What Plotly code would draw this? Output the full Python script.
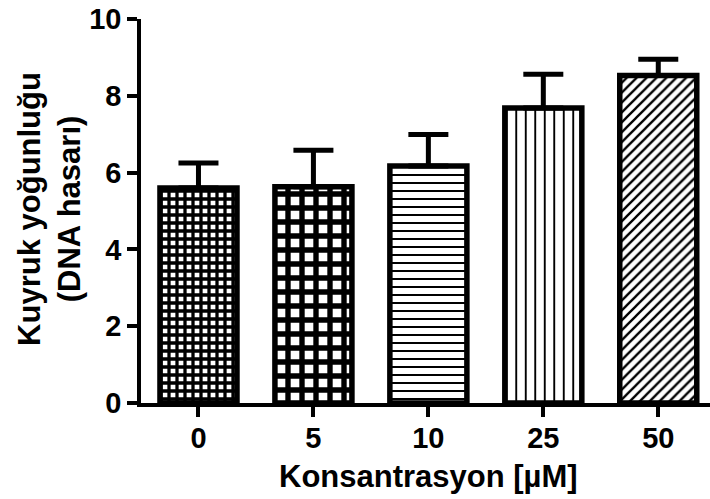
import plotly.graph_objects as go

categories = ["0", "5", "10", "25", "50"]
means = [5.60, 5.63, 6.17, 7.68, 8.53]
sem = [0.65, 0.95, 0.82, 0.88, 0.42]

patterns = ["+", "+", "-", "|", "/"]
pat_sizes = [8, 14, 8, 9.5, 7]
pat_solid = [0.65, 0.62, 0.25, 0.2, 0.33]

FONT = "Liberation Sans, Arial, sans-serif"
xpos = list(range(len(categories)))

fig = go.Figure()
fig.add_trace(go.Bar(
    x=xpos, y=means, width=0.67,
    marker=dict(
        color="white",
        line=dict(color="black", width=5.5),
        pattern=dict(shape=patterns, size=pat_sizes, solidity=pat_solid,
                     fgcolor="black", bgcolor="white", fgopacity=1,
                     fillmode="overlay"),
    ),
    error_y=dict(type="data", symmetric=False, array=sem,
                 arrayminus=[0] * len(sem), color="black",
                 thickness=5, width=20),
    showlegend=False,
))

fig.update_layout(
    width=710, height=499,
    margin=dict(l=141, r=0, t=19, b=96),
    paper_bgcolor="white", plot_bgcolor="rgba(0,0,0,0)",
    font=dict(family=FONT, color="black"),
    xaxis=dict(range=[-0.5, 4.45], tickvals=xpos, ticktext=categories,
               showline=True, linecolor="black", linewidth=3.5,
               ticks="outside", ticklen=10, tickwidth=3.5, tickcolor="black",
               ticklabelstandoff=-4,
               tickfont=dict(family=FONT, size=29, weight="bold"),
               showgrid=False, zeroline=False),
    yaxis=dict(range=[0, 10], dtick=2,
               showline=True, linecolor="black", linewidth=3.5,
               ticks="outside", ticklen=10, tickwidth=3.5, tickcolor="black",
               tickfont=dict(family=FONT, size=29, weight="bold"),
               showgrid=False, zeroline=False),
    annotations=[
        dict(text="Konsantrasyon [µM]", xref="paper", yref="paper",
             x=0.505, y=-0.192, xanchor="center", yanchor="middle",
             showarrow=False, font=dict(family=FONT, size=31, weight="bold")),
        dict(text="Kuyruk yoğunluğu<br>(DNA hasarı)", xref="paper", yref="paper",
             x=-0.162, y=0.505, xanchor="center", yanchor="middle", textangle=-90,
             showarrow=False, font=dict(family=FONT, size=31, weight="bold")),
    ],
)

fig.write_html("out.html")
